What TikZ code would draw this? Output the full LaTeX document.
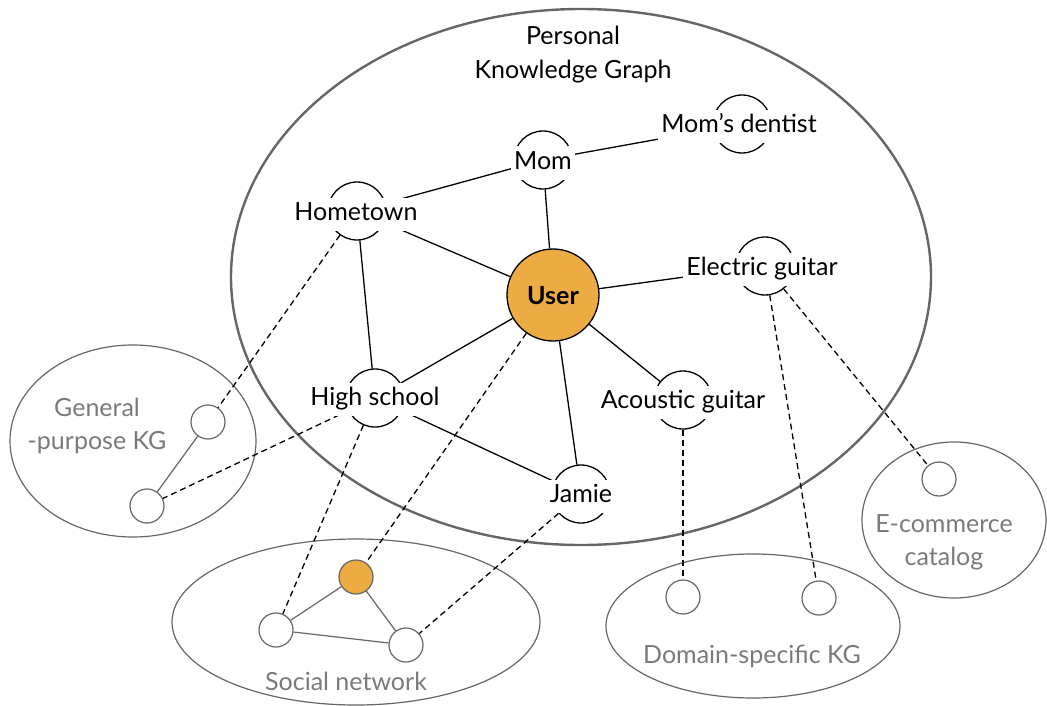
\documentclass[tikz,border=0pt]{standalone}
\usepackage{fontspec}
\setmainfont{Lato}
\definecolor{gry}{HTML}{666666}
\definecolor{gtxt}{HTML}{7A7A7A}
\definecolor{org}{HTML}{EDAB43}
\begin{document}
\begin{tikzpicture}[x=1pt,y=-1pt,
  ent/.style={circle, draw=black, line width=1.3pt, minimum size=58pt, inner sep=0pt},
  lbl/.style={fill=white, inner xsep=3pt, inner ysep=5.5pt, text height=17pt, text depth=5pt, font=\fontsize{25}{28}\selectfont},
  smallc/.style={circle, draw=gry, line width=1.2pt, minimum size=34pt, inner sep=0pt, fill=white},
  grp/.style={draw=gry, line width=1.2pt},
  gtext/.style={text=gtxt, font=\fontsize{25}{33}\selectfont, align=center},
  edge/.style={draw=black, line width=1.3pt},
  dedge/.style={draw=black, line width=1.3pt, dash pattern=on 6pt off 4pt},
  sedge/.style={draw=gry, line width=1.2pt}
]
\useasboundingbox (0,0) rectangle (1047,706);

% group ellipses
\draw[draw=gry, line width=2.4pt] (581,277) ellipse [x radius=350, y radius=268];
\draw[grp] (133,441) ellipse [x radius=123, y radius=96];
\draw[grp] (356,622) ellipse [x radius=184, y radius=83];
\draw[grp] (753,626) ellipse [x radius=147, y radius=72];
\draw[grp] (954,520) ellipse [x radius=92, y radius=78];

% group labels
\node[font=\fontsize{25}{34}\selectfont, align=center] (title) at (573,55) {Personal\\Knowledge Graph};
\node[gtext] (gpl) at (97,426) {General\\-purpose KG};
\node[gtext] (snl) at (346,681) {Social network};
\node[gtext] (dsl) at (752,656) {Domain-specific KG};
\node[gtext] (ecl) at (944,542) {E-commerce\\catalog};

% entity circles
\node[ent] (ht) at (357,211) {};
\node[ent] (mom) at (543,160) {};
\node[ent] (md) at (742,124) {};
\node[circle, draw=black, line width=1.3pt, fill=org, minimum size=92pt, inner sep=0pt] (user) at (553,295) {};
\node[ent] (eg) at (765,266) {};
\node[ent] (ag) at (683,400) {};
\node[ent] (hs) at (375,398) {};
\node[ent] (jm) at (581,494) {};

% small circles
\node[smallc] (gp1) at (208,422) {};
\node[smallc] (gp2) at (147,506) {};
\node[smallc, fill=org] (sn0) at (356,577) {};
\node[smallc] (sn1) at (276,630) {};
\node[smallc] (sn2) at (406,645) {};
\node[smallc] (ds1) at (683,597) {};
\node[smallc] (ds2) at (819,598) {};
\node[smallc] (ec1) at (939,479) {};

% solid edges
\draw[edge] (mom) -- (ht);
\draw[edge] (mom) -- (md);
\draw[edge] (mom) -- (user);
\draw[edge] (ht) -- (user);
\draw[edge] (ht) -- (hs);
\draw[edge] (user) -- (eg);
\draw[edge] (user) -- (hs);
\draw[edge] (user) -- (ag);
\draw[edge] (user) -- (jm);
\draw[edge] (hs) -- (jm);

% small edges
\draw[sedge] (gp1) -- (gp2);
\draw[sedge] (sn0) -- (sn1);
\draw[sedge] (sn0) -- (sn2);
\draw[sedge] (sn1) -- (sn2);

% dashed links
\draw[dedge] (ht) -- (gp1);
\draw[dedge] (hs) -- (gp2);
\draw[dedge] (hs) -- (sn1);
\draw[dedge] (user) -- (sn0);
\draw[dedge] (jm) -- (sn2);
\draw[dedge] (ag) -- (ds1);
\draw[dedge] (eg) -- (ds2);
\draw[dedge] (eg) -- (ec1);

% labels on top
\node[lbl] (htl) at (356,214) {Hometown};
\node[lbl] (moml) at (543,163) {Mom};
\node[lbl] (mdl) at (739,127) {Mom’s dentist};
\node[font=\fontsize{25}{28}\bfseries\selectfont] (userl) at (553,296) {User};
\node[lbl] (egl) at (762,269) {Electric guitar};
\node[lbl] (agl) at (683,402) {Acoustic guitar};
\node[lbl] (hsl) at (375,399) {High school};
\node[lbl] (jml) at (581,496) {Jamie};
\end{tikzpicture}
\end{document}
